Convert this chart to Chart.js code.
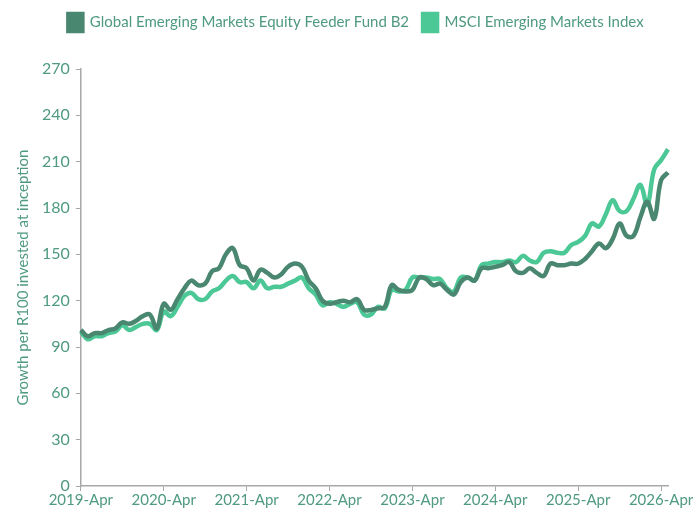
<!DOCTYPE html>
<html>
<head>
<meta charset="utf-8">
<script src="https://cdn.jsdelivr.net/npm/chart.js@4/dist/chart.umd.min.js"></script>
<style>
  html, body { margin: 0; padding: 0; background: #fff; }
  #wrap { width: 695px; height: 509px; }
</style>
</head>
<body>
<div id="wrap"><canvas id="growthChart"></canvas></div>
<script>
/* data */
const months = ['Jan', 'Feb', 'Mar', 'Apr', 'May', 'Jun', 'Jul', 'Aug', 'Sep', 'Oct', 'Nov', 'Dec']

// monthly labels 2019-Apr .. 2026-May
const labels = []
for (let y = 2019; y <= 2026; y++) {
    months.forEach(function(m, i) {
        if (y === 2019 && i < 3) return
        if (y === 2026 && i > 4) return
        labels.push(y + '-' + m)
    })
}

const fundValues = [
    101, 97, 99, 99, 101, 102, 106, 105, 107, 110, 111, 102,
    118, 114, 121, 128, 133, 130, 131, 139, 141, 150, 154, 143,
    141, 133, 140, 138, 135, 137, 142, 144, 142, 133, 128, 120,
    118, 119, 120, 119, 121, 114, 114, 115, 116, 130, 127, 126,
    127, 135, 134, 130, 131, 127, 124, 132, 135, 133, 141, 141,
    142, 143, 145, 139, 138, 141, 138, 136, 144, 143, 143, 144,
    144, 147, 152, 157, 154, 160, 170, 162, 162, 174, 184, 173,
    198, 203
]

const msciValues = [
    100, 95, 97, 97, 99, 100, 104, 101, 103, 105, 105, 101,
    113, 110, 116, 123, 125, 121, 121, 126, 128, 133, 136, 132,
    132, 128, 133, 128, 129, 129, 131, 133, 135, 128, 124, 117,
    119, 118, 116, 118, 119, 111, 111, 116, 115, 127, 126, 127,
    135, 135, 135, 134, 134, 128, 126, 135, 135, 133, 143, 144,
    145, 145, 146, 145, 149, 146, 145, 151, 152, 151, 151, 156,
    158, 162, 170, 168, 176, 185, 178, 178, 186, 195, 182, 205,
    211, 218
]

const yTicks = [0, 30, 60, 90, 120, 150, 180, 210, 240, 270]

const colors = {
    fund: '#4a8770',
    msci: '#4cc896',
    text: '#4f9a80',
    axis: '#a8a8a8'
}

const FONT = 'Lato, "Noto Sans", sans-serif'

// more room under the legend, and nudge it right like the original
const legendSpace = {
    id: 'legendSpace',
    beforeInit: function(chart) {
        const fit = chart.legend.fit
        chart.legend.fit = function() {
            fit.call(this)
            this.height += 28
        }
    },
    afterLayout: function(chart) {
        chart.legend.left += 15
        chart.legend.right += 15
    }
}

/* chart */
const ctx = document.getElementById('growthChart').getContext('2d')
const myChart = new Chart(ctx, {
    type: 'line',
    data: {
        labels: labels,
        datasets: [
        {
            label: 'Global Emerging Markets Equity Feeder Fund B2',
            data: fundValues,
            borderColor: colors.fund,
            backgroundColor: colors.fund,
            borderWidth: 4.5,
            pointRadius: 0,
            tension: 0.4
        },
        {
            label: 'MSCI Emerging Markets Index',
            data: msciValues,
            borderColor: colors.msci,
            backgroundColor: colors.msci,
            borderWidth: 4.5,
            pointRadius: 0,
            tension: 0.4
        }]
    },
    plugins: [legendSpace],
    options: {
        responsive: true,
        maintainAspectRatio: false,
        animation: false,
        layout: { padding: { left: 14, right: 27, top: 0, bottom: 0 } },
        plugins: {
            tooltip: { enabled: false },
            legend: {
                position: 'top',
                labels: {
                    color: colors.text,
                    font: { family: FONT, size: 15 },
                    boxWidth: 14,
                    boxHeight: 17,
                    padding: 14
                }
            }
        },
        scales: {
            x: {
                offset: false,
                border: { color: colors.axis, width: 1.5 },
                grid: {
                    drawOnChartArea: false,
                    color: colors.axis,
                    tickLength: 5
                },
                ticks: {
                    autoSkip: false,
                    maxRotation: 0,
                    color: colors.text,
                    padding: 0,
                    font: { family: FONT, size: 15 },
                    callback: function(value) {
                        const lab = this.getLabelForValue(value)
                        return lab.endsWith('Apr') ? lab : null
                    }
                }
            },
            y: {
                min: 0,
                max: 270,
                afterBuildTicks: function(axis) {
                    axis.ticks = yTicks.map(function(v) { return { value: v } })
                },
                border: { color: colors.axis, width: 1.5 },
                grid: {
                    drawOnChartArea: false,
                    color: colors.axis,
                    tickLength: 5
                },
                ticks: {
                    color: colors.text,
                    padding: 6,
                    font: { family: FONT, size: 16 }
                },
                title: {
                    display: true,
                    text: 'Growth per R100 invested at inception',
                    color: colors.text,
                    font: { family: FONT, size: 15 },
                    padding: { top: 0, bottom: 4 }
                }
            }
        }
    }
})
</script>
</body>
</html>
